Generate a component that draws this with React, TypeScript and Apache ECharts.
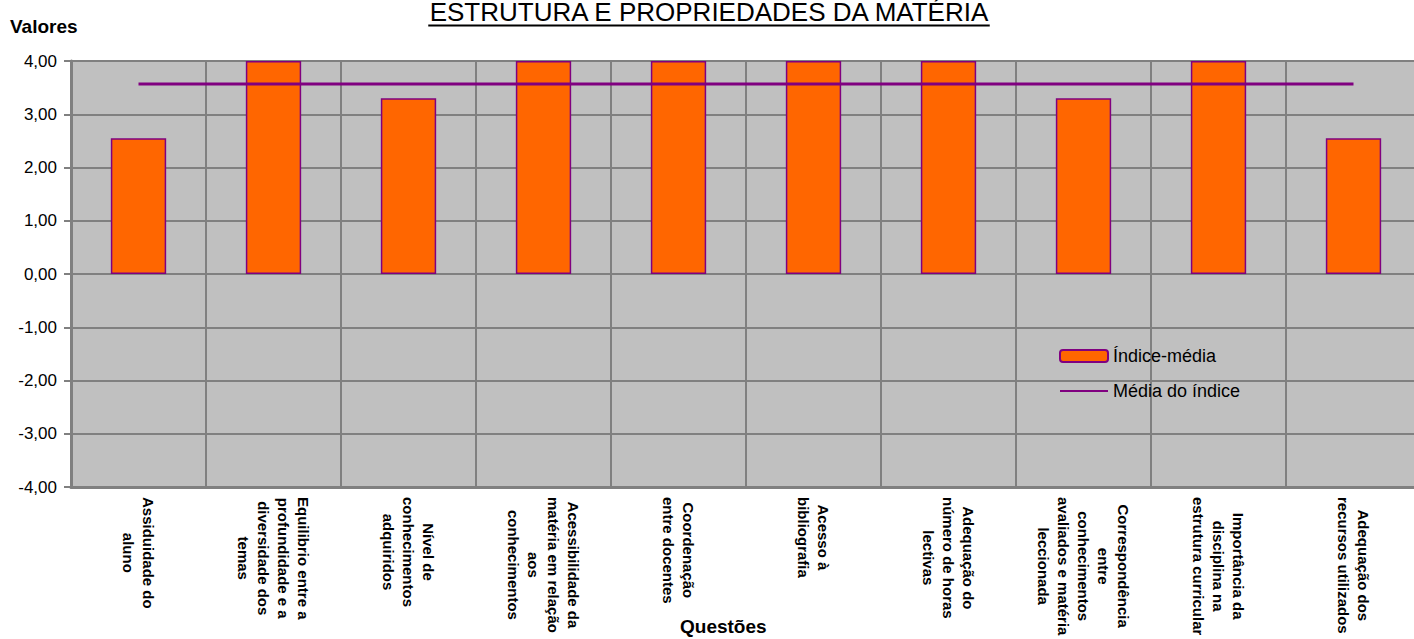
import React, { useEffect, useRef } from "react";
import * as echarts from "echarts";

const titleText = "ESTRUTURA E PROPRIEDADES DA MATÉRIA";
const yAxisTitle = "Valores";
const xAxisTitle = "Questões";

const categories = [
  "Assiduidade do\naluno",
  "Equilibrio entre a\nprofundidade e a\ndiversidade dos\ntemas",
  "Nível de\nconhecimentos\nadquiridos",
  "Acessibilidade da\nmatéria em relação\naos\nconhecimentos",
  "Coordenação\nentre docentes",
  "Acesso à\nbibliografia",
  "Adequação do\nnúmero de horas\nlectivas",
  "Correspondência\nentre\nconhecimentos\navaliados e matéria\nleccionada",
  "Importância da\ndisciplina na\nestrutura curricular",
  "Adequação dos\nrecursos utilizados",
];

const indiceMedia = [2.55, 4.0, 3.3, 4.0, 4.0, 4.0, 4.0, 3.3, 4.0, 2.55];
const mediaDoIndice = [3.57, 3.57, 3.57, 3.57, 3.57, 3.57, 3.57, 3.57, 3.57, 3.57];

const yMin = -4;
const yMax = 4;
const yInterval = 1;

const FONT = "Arial, 'Liberation Sans', sans-serif";

export default function App() {
  const ref = useRef<HTMLDivElement>(null);

  useEffect(() => {
    if (!ref.current) return;
    const chart = echarts.init(ref.current, null, { renderer: "svg" });

    const titleSize = 26;
    const titleCenter = 709;
    const canvas = document.createElement("canvas");
    const ctx = canvas.getContext("2d");
    let tw = 568;
    if (ctx) {
      ctx.font = `${titleSize}px ${FONT}`;
      tw = ctx.measureText(titleText).width;
    }

    chart.setOption({
      animation: false,
      backgroundColor: "#ffffff",
      title: [
        {
          text: titleText,
          left: titleCenter,
          textAlign: "center",
          top: 0,
          padding: 0,
          textStyle: { fontFamily: FONT, fontSize: titleSize, fontWeight: "normal", color: "#000", lineHeight: 24 },
        },
        {
          text: yAxisTitle,
          left: 10,
          top: 17,
          padding: 0,
          textStyle: { fontFamily: FONT, fontSize: 19, fontWeight: "bold", color: "#000" },
        },
        {
          text: xAxisTitle,
          left: 680,
          top: 617,
          padding: 0,
          textStyle: { fontFamily: FONT, fontSize: 19, fontWeight: "bold", color: "#000" },
        },
      ],
      graphic: [
        {
          type: "line",
          shape: { x1: titleCenter - tw / 2, y1: 25.5, x2: titleCenter + tw / 2, y2: 25.5 },
          style: { stroke: "#000", lineWidth: 2 },
          z: 10,
        },
      ],
      legend: {
        orient: "vertical",
        left: 1059,
        top: 347,
        padding: 0,
        itemWidth: 48,
        itemHeight: 12,
        itemGap: 17,
        textStyle: { fontFamily: FONT, fontSize: 18, color: "#000" },
        data: [
          { name: "Índice-média" },
          {
            name: "Média do índice",
            itemStyle: { color: "rgba(0,0,0,0)", borderColor: "rgba(0,0,0,0)", borderWidth: 0 },
          },
        ],
      },
      grid: {
        left: 71,
        top: 61,
        bottom: 152,
        right: 0,
        show: true,
        backgroundColor: "#C0C0C0",
        borderWidth: 0,
        containLabel: false,
      },
      xAxis: {
        type: "category",
        data: categories,
        position: "bottom",
        axisLine: { onZero: false, lineStyle: { color: "#808080", width: 3 } },
        axisTick: { show: false },
        splitLine: { show: true, interval: 0, lineStyle: { color: "#808080", width: 2 } },
        axisLabel: {
          interval: 0,
          rotate: -90,
          margin: 10,
          formatter: (v: string) => v.split("\n").map((l) => `{c|${l}}`).join("\n"),
          rich: {
            c: {
              align: "center",
              fontFamily: FONT,
              fontSize: 15,
              fontWeight: "bold",
              lineHeight: 20,
              color: "#000",
            },
          },
        },
      },
      yAxis: {
        type: "value",
        min: yMin,
        max: yMax,
        interval: yInterval,
        axisLine: { show: true, lineStyle: { color: "#808080", width: 3 } },
        axisTick: { show: true, length: 7, lineStyle: { color: "#808080", width: 2 } },
        splitLine: { show: true, lineStyle: { color: "#808080", width: 2 } },
        axisLabel: {
          margin: 14,
          fontFamily: FONT,
          fontSize: 17,
          color: "#000",
          formatter: (v: number) => v.toFixed(2).replace(".", ","),
        },
      },
      series: [
        {
          name: "Índice-média",
          type: "bar",
          data: indiceMedia,
          barWidth: "41%",
          itemStyle: { color: "#FF6600", borderColor: "#800080", borderWidth: 1.5 },
          z: 2,
        },
        {
          name: "Média do índice",
          type: "line",
          data: mediaDoIndice,
          symbol: "none",
          lineStyle: { color: "#800080", width: 3 },
          itemStyle: { color: "#800080" },
          z: 3,
        },
      ],
    });

    return () => chart.dispose();
  }, []);

  return (
    <div
      style={{
        position: "fixed",
        left: 0,
        top: 0,
        width: 1414,
        height: 639,
        overflow: "hidden",
      }}
    >
      <div ref={ref} style={{ width: 1421, height: 639 }} />
    </div>
  );
}
